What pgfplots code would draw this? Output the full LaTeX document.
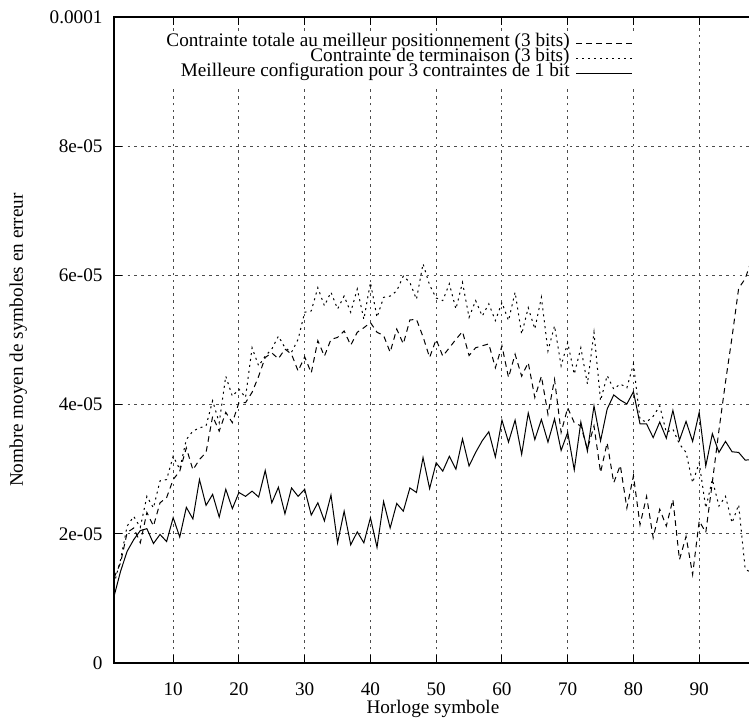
\documentclass[border=0pt]{standalone}
\usepackage{pgfplots}
\pgfplotsset{compat=1.18}
\usepackage{pgfplotstable}
\usepackage{fontspec}
\setmainfont{Liberation Serif}
\usetikzlibrary{calc}
\newcommand\fs{\fontsize{9.6}{11.5}\selectfont}

% x, totale (3 bits), terminaison (3 bits), meilleure config 3x1 bit
\pgfplotstableread{
x  d        t        s
1  1.32e-5  1.22e-5  1.03e-5
2  1.55e-5  1.60e-5  1.42e-5
3  2.02e-5  2.12e-5  1.73e-5
4  2.09e-5  2.27e-5  1.91e-5
5  1.86e-5  2.10e-5  2.05e-5
6  2.33e-5  2.58e-5  2.08e-5
7  2.12e-5  2.40e-5  1.85e-5
8  2.48e-5  2.82e-5  1.99e-5
9  2.56e-5  2.84e-5  1.88e-5
10 2.84e-5  3.20e-5  2.25e-5
11 2.97e-5  3.00e-5  1.95e-5
12 3.33e-5  3.46e-5  2.41e-5
13 2.99e-5  3.59e-5  2.23e-5
14 3.15e-5  3.64e-5  2.84e-5
15 3.26e-5  3.67e-5  2.44e-5
16 3.82e-5  4.06e-5  2.61e-5
17 3.59e-5  3.72e-5  2.26e-5
18 3.88e-5  4.44e-5  2.69e-5
19 3.72e-5  4.13e-5  2.39e-5
20 4.03e-5  4.24e-5  2.64e-5
21 4.03e-5  4.11e-5  2.58e-5
22 4.19e-5  4.88e-5  2.66e-5
23 4.44e-5  4.60e-5  2.57e-5
24 4.73e-5  4.75e-5  2.98e-5
25 4.80e-5  4.86e-5  2.48e-5
26 4.71e-5  5.06e-5  2.72e-5
27 4.86e-5  4.88e-5  2.31e-5
28 4.78e-5  4.81e-5  2.71e-5
29 4.52e-5  5.01e-5  2.58e-5
30 4.74e-5  5.43e-5  2.69e-5
31 4.49e-5  5.45e-5  2.29e-5
32 4.99e-5  5.81e-5  2.48e-5
33 4.75e-5  5.53e-5  2.20e-5
34 5.01e-5  5.74e-5  2.60e-5
35 5.04e-5  5.48e-5  1.86e-5
36 5.14e-5  5.68e-5  2.35e-5
37 4.92e-5  5.43e-5  1.83e-5
38 5.12e-5  5.79e-5  2.03e-5
39 5.19e-5  5.32e-5  1.86e-5
40 5.27e-5  5.89e-5  2.25e-5
41 5.12e-5  5.35e-5  1.79e-5
42 5.07e-5  5.66e-5  2.50e-5
43 4.81e-5  5.68e-5  2.09e-5
44 5.17e-5  5.76e-5  2.47e-5
45 4.94e-5  5.99e-5  2.35e-5
46 5.31e-5  5.89e-5  2.71e-5
47 5.32e-5  5.63e-5  2.64e-5
48 5.05e-5  6.18e-5  3.18e-5
49 4.73e-5  5.85e-5  2.70e-5
50 5.01e-5  5.65e-5  3.10e-5
51 4.75e-5  5.61e-5  2.97e-5
52 4.88e-5  5.87e-5  3.20e-5
53 5.01e-5  5.48e-5  3.00e-5
54 5.13e-5  5.89e-5  3.47e-5
55 4.76e-5  5.35e-5  3.05e-5
56 4.88e-5  5.61e-5  3.26e-5
57 4.91e-5  5.37e-5  3.44e-5
58 4.94e-5  5.56e-5  3.58e-5
59 4.57e-5  5.30e-5  3.19e-5
60 4.91e-5  5.58e-5  3.76e-5
61 4.42e-5  5.30e-5  3.42e-5
62 4.78e-5  5.74e-5  3.76e-5
63 4.44e-5  5.09e-5  3.23e-5
64 4.65e-5  5.50e-5  3.87e-5
65 4.11e-5  5.17e-5  3.46e-5
66 4.44e-5  5.66e-5  3.77e-5
67 3.85e-5  4.83e-5  3.42e-5
68 4.39e-5  5.22e-5  3.78e-5
69 3.57e-5  4.60e-5  3.29e-5
70 3.95e-5  4.96e-5  3.57e-5
71 3.72e-5  4.47e-5  2.99e-5
72 3.67e-5  4.88e-5  3.73e-5
73 3.31e-5  4.32e-5  3.28e-5
74 3.67e-5  5.12e-5  3.98e-5
75 2.95e-5  4.06e-5  3.44e-5
76 3.41e-5  4.45e-5  3.93e-5
77 2.79e-5  4.24e-5  4.15e-5
78 3.06e-5  4.32e-5  4.07e-5
79 2.40e-5  4.26e-5  4.01e-5
80 2.90e-5  4.63e-5  4.20e-5
81 2.14e-5  3.77e-5  3.70e-5
82 2.58e-5  3.73e-5  3.70e-5
83 1.94e-5  3.82e-5  3.49e-5
84 2.38e-5  3.98e-5  3.73e-5
85 2.12e-5  3.57e-5  3.48e-5
86 2.53e-5  3.62e-5  3.91e-5
87 1.60e-5  3.39e-5  3.45e-5
88 1.96e-5  3.26e-5  3.74e-5
89 1.37e-5  2.79e-5  3.43e-5
90 2.20e-5  3.10e-5  3.88e-5
91 2.02e-5  2.40e-5  3.05e-5
92 2.80e-5  2.84e-5  3.55e-5
93 3.60e-5  2.43e-5  3.26e-5
94 4.35e-5  2.58e-5  3.43e-5
95 5.05e-5  2.17e-5  3.27e-5
96 5.80e-5  2.45e-5  3.26e-5
97 5.95e-5  1.45e-5  3.14e-5
98 6.25e-5  1.40e-5  3.15e-5
}\data

\begin{document}
\begin{tikzpicture}
\begin{axis}[
    at={(0,0)}, anchor=south west,
    width=318.9pt, height=323pt, scale only axis,
    xmin=1, xmax=98, ymin=0, ymax=1e-4,
    xtick={10,20,30,40,50,60,70,80,90},
    xticklabels={10,20,30,40,50,60,70,80,90},
    ytick={0,2e-5,4e-5,6e-5,8e-5,1e-4},
    yticklabels={0,2e-05,4e-05,6e-05,8e-05,0.0001},
    scaled y ticks=false,
    ytick pos=left,
    tick align=inside, major tick length=4pt,
    tick style={black, line width=0.5pt},
    axis line style={line width=0.8pt},
    grid=major,
    major grid style={black!70, line width=0.45pt, dash pattern=on 1.3pt off 2.1pt},
    tick label style={font=\fs},
    xticklabel style={yshift=-6.5pt},
    yticklabel style={xshift=-2.2pt},
    xlabel={Horloge symbole},
    ylabel={Nombre moyen de symboles en erreur},
    label style={font=\fs},
    xlabel style={at={(axis description cs:0.5,-0.0777)}, anchor=base},
    ylabel style={at={(axis description cs:-0.1427,0.5)}, anchor=base},
    legend plot pos=right,
    legend cell align=right,
    legend image code/.code={\draw[#1] (0pt,0pt) -- (28pt,0pt);},
    legend style={at={(0.820,0.978)}, anchor=north east, draw=none, fill=white,
        font=\fs, inner sep=2pt, column sep=3pt, row sep=0pt,
        nodes={inner sep=0pt, text height=5.4pt, text depth=2.1pt}},
]
\addplot[black, line width=0.5pt, dash pattern=on 2.8pt off 2.2pt] table[x=x, y=d] {\data};
\addlegendentry{Contrainte totale au meilleur positionnement (3 bits)}
\addplot[black, line width=0.5pt, dash pattern=on 1pt off 2pt] table[x=x, y=t] {\data};
\addlegendentry{Contrainte de terminaison (3 bits)}
\addplot[black, line width=0.5pt] table[x=x, y=s] {\data};
\addlegendentry{Meilleure configuration pour 3 contraintes de 1 bit}
\coordinate (bl) at (rel axis cs:0,0);
\coordinate (tr) at (rel axis cs:1,1);
\end{axis}
\pgfresetboundingbox
\path ($(bl)+(-57pt,-27pt)$) rectangle ($(tr)+(-1.4pt,8.5pt)$);
\end{tikzpicture}
\end{document}
